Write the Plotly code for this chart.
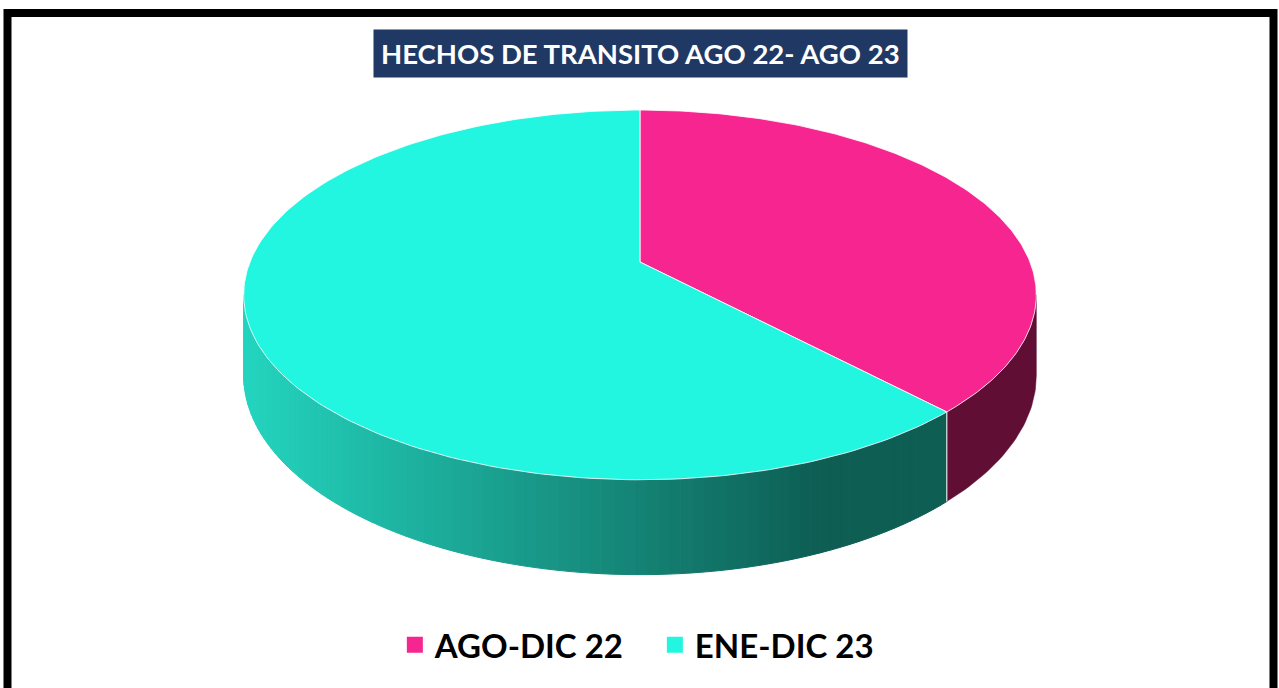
import numpy as np
import plotly.graph_objects as go

# ---- data ----
categories = ["AGO-DIC 22", "ENE-DIC 23"]
values = [38, 62]
top_colors = ["#F7258F", "#22F6E0"]
side_colors = ["#610E34", "#0E5E54"]
side_light = "#24D5BF"
title_text = "HECHOS DE TRANSITO AGO 22- AGO 23"

# ---- 3D pie projection parameters (pixel space) ----
W, Hh = 1279, 688
cx, cy = 640, 262
A, B, K, DEPTH = 390, 179, 0.178, 78


def proj(theta_deg, bottom=False):
    t = np.radians(theta_deg)
    u, v = np.sin(t), -np.cos(t)
    s = 1.0 / (1 - K * v)
    x = cx + A * u * s
    y = cy + B * v * s + (DEPTH * s if bottom else 0)
    return x, y


# silhouette angles (extreme x)
grid = np.linspace(0, 360, 36001)
gx, _ = proj(grid)
theta_r = grid[np.argmax(gx)]
theta_l = grid[np.argmin(gx)]

total = float(sum(values))
bounds = [0.0]
for v in values:
    bounds.append(bounds[-1] + 360.0 * v / total)

fig = go.Figure()


def hex2rgb(h):
    h = h.lstrip("#")
    return tuple(int(h[i:i + 2], 16) for i in (0, 2, 4))


def side_poly(t1, t2, n=40):
    ts = np.linspace(t1, t2, n)
    xt, yt = proj(ts)
    xb, yb = proj(ts[::-1], bottom=True)
    return np.concatenate([xt, xb, [xt[0]]]), np.concatenate([yt, yb, [yt[0]]])


# ---- sides (front visible part only) ----
for i in range(len(values)):
    a0 = max(bounds[i], theta_r)
    a1 = min(bounds[i + 1], theta_l)
    if a1 <= a0:
        continue
    if i == 0:
        xs, ys = side_poly(a0, a1)
        c = side_colors[0]
        fig.add_trace(go.Scatter(x=xs, y=ys, fill="toself", fillcolor=c, mode="lines",
                                 line=dict(color=c, width=0.5), hoverinfo="skip",
                                 showlegend=False))
    else:
        nstr = 90
        edges = np.linspace(a0, a1, nstr + 1)
        xl, _ = proj(theta_l)
        dark = np.array(hex2rgb(side_colors[1]))
        light = np.array(hex2rgb(side_light))
        for j in range(nstr):
            xs, ys = side_poly(edges[j], edges[j + 1], 4)
            xm = np.mean(xs)
            f = np.clip((xm - xl) / (820 - xl), 0, 1)
            rgb = light + (dark - light) * f
            c = "rgb(%d,%d,%d)" % tuple(rgb)
            fig.add_trace(go.Scatter(x=xs, y=ys, fill="toself", fillcolor=c, mode="lines",
                                     line=dict(color=c, width=1), hoverinfo="skip",
                                     showlegend=False))

# boundary edge on the side
xb0, yb0 = proj(bounds[1])
xb1, yb1 = proj(bounds[1], bottom=True)
fig.add_trace(go.Scatter(x=[xb0, xb1], y=[yb0, yb1], mode="lines",
                         line=dict(color="rgba(255,255,255,0.85)", width=1.2),
                         hoverinfo="skip", showlegend=False))

# ---- top faces ----
for i in range(len(values)):
    ts = np.linspace(bounds[i], bounds[i + 1], 200)
    xt, yt = proj(ts)
    xs = np.concatenate([[cx], xt, [cx]])
    ys = np.concatenate([[cy], yt, [cy]])
    fig.add_trace(go.Scatter(x=xs, y=ys, fill="toself", fillcolor=top_colors[i], mode="lines",
                             line=dict(color="rgba(255,255,255,0.8)", width=1),
                             hoverinfo="text", text=f"{categories[i]}: {values[i]}",
                             showlegend=False))

# ---- legend entries ----
for i in range(len(values)):
    fig.add_trace(go.Scatter(x=[None], y=[None], mode="markers", name=categories[i],
                             marker=dict(symbol="square", size=16, color=top_colors[i])))

fig.update_layout(
    width=W, height=Hh,
    margin=dict(l=0, r=0, t=0, b=0),
    paper_bgcolor="white", plot_bgcolor="white",
    xaxis=dict(range=[0, W], visible=False, fixedrange=True),
    yaxis=dict(range=[Hh, 0], visible=False, fixedrange=True),
    font=dict(family="Lato", color="black"),
    legend=dict(orientation="h", x=0.512, xanchor="center", y=0.022, yanchor="bottom",
                font=dict(size=33, family="Lato", weight="bold", color="black"),
                bgcolor="rgba(0,0,0,0)", entrywidth=215, itemclick=False),
    annotations=[dict(x=640.5, y=53, xref="x", yref="y", text=f"<b>{title_text}</b>",
                      showarrow=False, font=dict(size=27.5, family="Lato", color="white"),
                      bgcolor="#1F3864", borderpad=7)],
    shapes=[dict(type="rect", xref="x", yref="y", x0=7.5, x1=1273.5, y0=13, y1=720,
                 line=dict(color="black", width=8), fillcolor="rgba(0,0,0,0)", layer="above")],
)

fig.write_html("out.html", config={"displayModeBar": False},
               post_script="document.body.style.margin='0';document.body.style.overflow='hidden';")
